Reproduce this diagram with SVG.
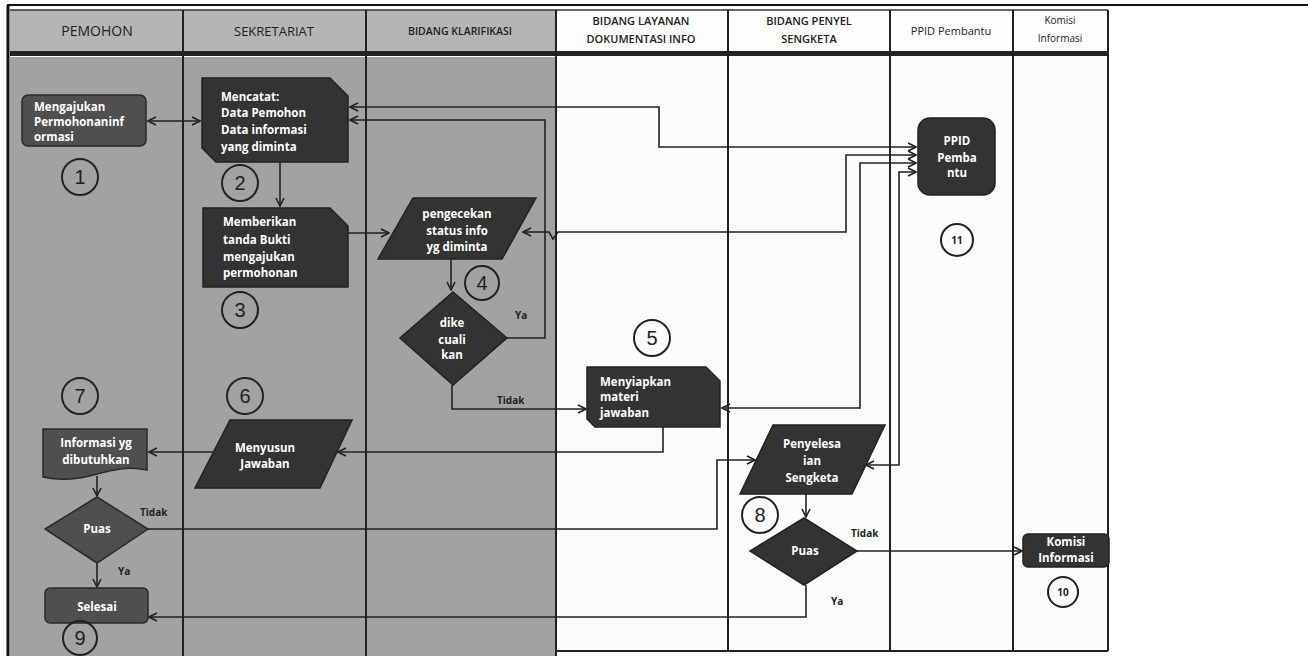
<svg xmlns="http://www.w3.org/2000/svg" width="1308" height="656" viewBox="0 0 1308 656">
<style>
.lane-g{fill:#a2a2a2}
.lane-w{fill:#fbfbfb}
.hd-g{fill:#b5b5b5}
.hd-w{fill:#fdfdfd}
.div{stroke:#222;stroke-width:2;fill:none}
.hdt{font-family:"Open Sans","Noto Sans",sans-serif;fill:#222;text-anchor:middle}
.nt{font-family:"Open Sans","Noto Sans",sans-serif;font-weight:700;font-size:11.5px;fill:#fff}
.ntc{font-family:"Open Sans","Noto Sans",sans-serif;font-weight:700;font-size:11.5px;fill:#fff;text-anchor:middle}
.dark{fill:#333;stroke:#222;stroke-width:1.5}
.mid{fill:#4f4f4f;stroke:#2a2a2a;stroke-width:1.5}
.num{fill:none;stroke:#222;stroke-width:2}
.numt{font-family:"Liberation Sans",Arial,sans-serif;font-size:20px;fill:#222;text-anchor:middle}
.nums{font-family:"Open Sans","Noto Sans",sans-serif;font-weight:700;font-size:10px;fill:#222;text-anchor:middle}
.lbl{font-family:"Open Sans","Noto Sans",sans-serif;font-weight:700;font-size:10px;fill:#222}
.cn{fill:none;stroke:#222;stroke-width:1.6}
</style>
<defs>
<marker id="ah" viewBox="0 0 10 10" refX="9" refY="5" markerWidth="10" markerHeight="10" markerUnits="userSpaceOnUse" orient="auto-start-reverse">
<path d="M1,1 L9,5 L1,9" fill="none" stroke="#222" stroke-width="1.6"/>
</marker>
</defs>

<g id="background">
<rect x="0" y="0" width="1308" height="656" fill="#ffffff"/>
<rect class="lane-g" x="10" y="57" width="546" height="599"/>
<rect class="lane-w" x="556" y="57" width="552" height="594"/>
<rect class="hd-g" x="10" y="10" width="546" height="42"/>
<rect class="hd-w" x="556" y="10" width="552" height="42"/>
<line x1="7" y1="5" x2="1308" y2="5" stroke="#111" stroke-width="2"/>
<line x1="8" y1="5" x2="8" y2="656" stroke="#111" stroke-width="3"/>
<line x1="10" y1="10" x2="1108" y2="10" stroke="#333" stroke-width="1.5"/>
<rect x="10" y="51" width="1098" height="5" fill="#222"/>
<path class="div" d="M183,10 V656 M366,10 V656 M556,10 V656 M728,10 V651 M890,10 V651 M1013,10 V651 M1108,10 V651 M556,651 H1108"/>
</g>

<g id="headers">
<text class="hdt" x="97" y="36" font-size="14">PEMOHON</text>
<text class="hdt" x="274" y="36" font-size="13">SEKRETARIAT</text>
<text class="hdt" x="460" y="35" font-size="10.5" font-weight="600">BIDANG KLARIFIKASI</text>
<text class="hdt" x="641" y="25" font-size="11" font-weight="600">BIDANG LAYANAN</text>
<text class="hdt" x="641" y="43" font-size="11" font-weight="600">DOKUMENTASI INFO</text>
<text class="hdt" x="809" y="25" font-size="11" font-weight="600">BIDANG PENYEL</text>
<text class="hdt" x="809" y="43" font-size="11" font-weight="600">SENGKETA</text>
<text class="hdt" x="951" y="35" font-size="11">PPID Pembantu</text>
<text class="hdt" x="1060" y="24" font-size="10">Komisi</text>
<text class="hdt" x="1060" y="42" font-size="10">Informasi</text>
</g>

<g id="connectors">
<path class="cn" d="M148,121 L200,121" marker-start="url(#ah)" marker-end="url(#ah)"/>
<path class="cn" d="M280,162 L280,206" marker-end="url(#ah)"/>
<path class="cn" d="M348,233 L389,233" marker-end="url(#ah)"/>
<path class="cn" d="M451,259 L451,290" marker-end="url(#ah)"/>
<path class="cn" d="M507,338 L545,338 L545,120 L350,120" marker-end="url(#ah)"/>
<path class="cn" d="M350,107 L659,107 L659,147 L916,147" marker-start="url(#ah)" marker-end="url(#ah)"/>
<path class="cn" d="M523,232 L549,232 L553,239 L558,232 L846,232 L846,155 L916,155" marker-start="url(#ah)" marker-end="url(#ah)"/>
<path class="cn" d="M722,408 L860,408 L860,163 L916,163" marker-start="url(#ah)" marker-end="url(#ah)"/>
<path class="cn" d="M866,465 L899,465 L899,172 L916,172" marker-start="url(#ah)" marker-end="url(#ah)"/>
<path class="cn" d="M452,385 L452,409 L586,409" marker-end="url(#ah)"/>
<path class="cn" d="M663,427 L663,452 L338,452" marker-end="url(#ah)"/>
<path class="cn" d="M213,452 L149,452" marker-end="url(#ah)"/>
<path class="cn" d="M97,476 L97,496" marker-end="url(#ah)"/>
<path class="cn" d="M148,529 L717,529 L717,460 L755,460" marker-end="url(#ah)"/>
<path class="cn" d="M97,563 L97,587" marker-end="url(#ah)"/>
<path class="cn" d="M806,494 L806,517" marker-end="url(#ah)"/>
<path class="cn" d="M857,551 L1022,551" marker-end="url(#ah)"/>
<path class="cn" d="M806,585 L806,617 L149,617" marker-end="url(#ah)"/>
<text class="lbl" x="515" y="319">Ya</text>
<text class="lbl" x="497" y="404">Tidak</text>
<text class="lbl" x="140" y="516">Tidak</text>
<text class="lbl" x="118" y="575">Ya</text>
<text class="lbl" x="851" y="537">Tidak</text>
<text class="lbl" x="831" y="605">Ya</text>
</g>

<g id="n1">
<rect class="mid" x="22" y="95" width="124" height="51" rx="6"/>
<text class="nt" x="34" y="111">Mengajukan</text>
<text class="nt" x="34" y="126">Permohonaninf</text>
<text class="nt" x="34" y="141">ormasi</text>
</g>
<g id="n2">
<path class="dark" d="M202,78 L330,78 L348,96 L348,162 L216,162 L202,148 Z"/>
<text class="nt" x="221" y="101">Mencatat:</text>
<text class="nt" x="221" y="117">Data Pemohon</text>
<text class="nt" x="221" y="134">Data informasi</text>
<text class="nt" x="221" y="151">yang diminta</text>
</g>
<g id="n3">
<path class="dark" d="M203,208 L330,208 L348,226 L348,287 L203,287 Z"/>
<text class="nt" x="223" y="226">Memberikan</text>
<text class="nt" x="223" y="244">tanda Bukti</text>
<text class="nt" x="223" y="261">mengajukan</text>
<text class="nt" x="223" y="277">permohonan</text>
</g>
<g id="n4">
<polygon class="dark" points="413,198 536,198 502,259 378,259"/>
<text class="ntc" x="457" y="218">pengecekan</text>
<text class="ntc" x="457" y="235">status info</text>
<text class="ntc" x="457" y="251">yg diminta</text>
</g>
<g id="n5">
<polygon class="dark" points="453,292 507,338 453,385 400,338"/>
<text class="ntc" x="452" y="327" font-size="11">dike</text>
<text class="ntc" x="452" y="344" font-size="11">cuali</text>
<text class="ntc" x="452" y="359" font-size="11">kan</text>
</g>
<g id="n6">
<path class="dark" d="M587,367 L706,367 L720,381 L720,427 L595,427 L587,419 Z"/>
<text class="nt" x="600" y="386">Menyiapkan</text>
<text class="nt" x="600" y="401">materi</text>
<text class="nt" x="600" y="417">jawaban</text>
</g>
<g id="n7">
<polygon class="dark" points="230,420 352,420 320,488 195,488"/>
<text class="ntc" x="265" y="452">Menyusun</text>
<text class="ntc" x="265" y="468">Jawaban</text>
</g>
<g id="n8">
<path class="mid" d="M43,429 H147 V470 C128,466 112,470 97,474 C80,479 60,481 43,477 Z"/>
<text class="ntc" x="96" y="447">Informasi yg</text>
<text class="ntc" x="96" y="464">dibutuhkan</text>
</g>
<g id="n9">
<polygon class="mid" points="97,497 148,529 97,563 45,529"/>
<text class="ntc" x="97" y="533">Puas</text>
</g>
<g id="n10">
<rect class="mid" x="45" y="588" width="103" height="35" rx="5"/>
<text class="ntc" x="97" y="611">Selesai</text>
</g>
<g id="n11">
<polygon class="dark" points="773,425 885,425 852,494 740,494"/>
<text class="ntc" x="812" y="448">Penyelesa</text>
<text class="ntc" x="812" y="465">ian</text>
<text class="ntc" x="812" y="482">Sengketa</text>
</g>
<g id="n12">
<polygon class="dark" points="804,518 857,551 804,585 750,551"/>
<text class="ntc" x="805" y="555">Puas</text>
</g>
<g id="n13">
<rect class="dark" x="918" y="118" width="77" height="77" rx="12"/>
<text class="ntc" x="957" y="145" font-size="10.5">PPID</text>
<text class="ntc" x="957" y="162" font-size="10.5">Pemba</text>
<text class="ntc" x="957" y="177" font-size="10.5">ntu</text>
</g>
<g id="n14">
<rect class="dark" x="1023" y="534" width="86" height="33" rx="5"/>
<text class="ntc" x="1066" y="546" font-size="10">Komisi</text>
<text class="ntc" x="1066" y="562" font-size="10">Informasi</text>
</g>

<g id="step-numbers">
<circle class="num" cx="80" cy="177" r="18"/><text class="numt" x="80" y="184">1</text>
<circle class="num" cx="240" cy="183" r="18"/><text class="numt" x="240" y="190">2</text>
<circle class="num" cx="240" cy="310" r="18"/><text class="numt" x="240" y="317">3</text>
<circle class="num" cx="482" cy="283" r="17"/><text class="numt" x="482" y="290">4</text>
<circle class="num" cx="652" cy="338" r="18"/><text class="numt" x="652" y="345">5</text>
<circle class="num" cx="245" cy="396" r="18"/><text class="numt" x="245" y="403">6</text>
<circle class="num" cx="80" cy="396" r="18"/><text class="numt" x="80" y="403">7</text>
<circle class="num" cx="760" cy="515" r="18"/><text class="numt" x="760" y="522">8</text>
<circle class="num" cx="80" cy="638" r="17"/><text class="numt" x="80" y="645">9</text>
<circle class="num" cx="1063" cy="592" r="15"/><text class="nums" x="1063" y="596">10</text>
<circle class="num" cx="957" cy="240" r="16"/><text class="nums" x="957" y="244">11</text>
</g>
</svg>
